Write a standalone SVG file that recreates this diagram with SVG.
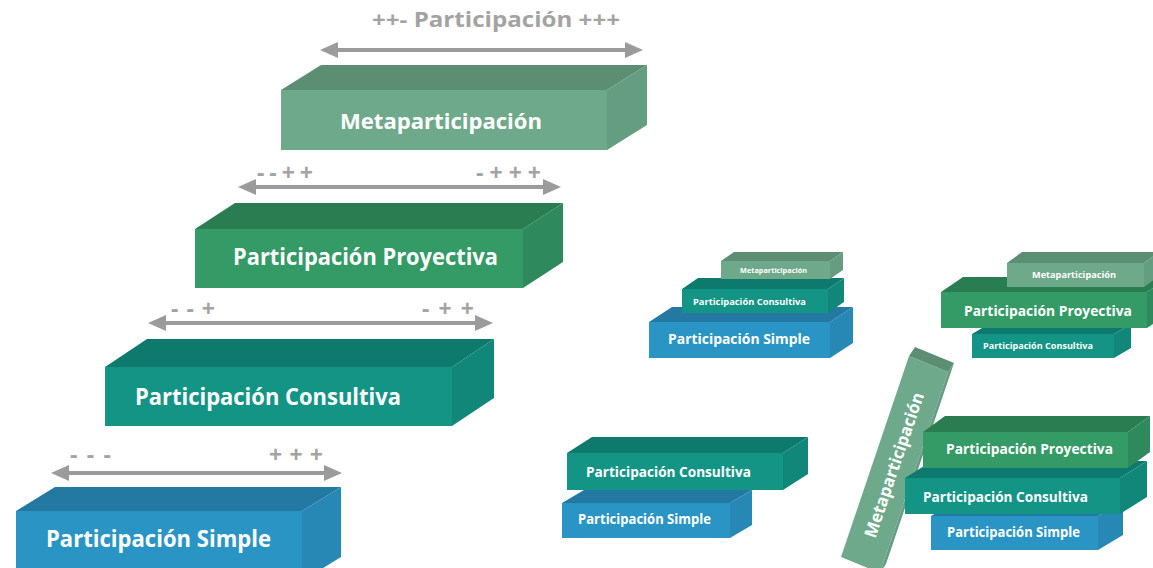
<svg xmlns="http://www.w3.org/2000/svg" width="1153" height="568" viewBox="0 0 1153 568">
<style>
text{font-family:"Open Sans","Noto Sans","DejaVu Sans",sans-serif;font-weight:700;}
.lbl{fill:#fff;text-anchor:middle;}
.gray{fill:#A3A3A3;}
.arrow{stroke:#9B9B9B;stroke-width:4;fill:none;marker-start:url(#ah);marker-end:url(#ah);}
.mF{fill:#6FA98B}.mT{fill:#5C8E74}.mR{fill:#649D81}
.pF{fill:#349A66}.pT{fill:#297D51}.pR{fill:#2E8A5C}
.cF{fill:#139485}.cT{fill:#0E796D}.cR{fill:#11877A}
.sF{fill:#2A95C5}.sT{fill:#2379A1}.sR{fill:#2787B5}
</style>
<defs>
<marker id="ah" markerUnits="userSpaceOnUse" markerWidth="18" markerHeight="16" refX="8" refY="8" orient="auto-start-reverse" viewBox="0 0 18 16">
<path d="M0,0 L18,8 L0,16 z" fill="#9B9B9B"/>
</marker>
</defs>
<rect width="1153" height="568" fill="#fff"/>

<g id="connectors">
<line class="arrow" x1="330" y1="50" x2="633" y2="50"/>
<line class="arrow" x1="248" y1="187" x2="551" y2="187"/>
<line class="arrow" x1="158" y1="323" x2="483" y2="323"/>
<line class="arrow" x1="61" y1="473" x2="332" y2="473"/>
</g>

<g id="labels">
<text class="gray" x="372" y="27" font-size="22" textLength="248" lengthAdjust="spacingAndGlyphs">++- Participación +++</text>
<text class="gray" x="257" y="181" font-size="23" textLength="56" lengthAdjust="spacing">--++</text>
<text class="gray" x="476" y="181" font-size="23" textLength="65" lengthAdjust="spacing">-+++</text>
<text class="gray" x="171" y="317" font-size="23" textLength="44" lengthAdjust="spacing">--+</text>
<text class="gray" x="422" y="317" font-size="23" textLength="52" lengthAdjust="spacing">-++</text>
<text class="gray" x="70" y="463" font-size="23" textLength="41" lengthAdjust="spacing">---</text>
<text class="gray" x="269" y="463" font-size="23" textLength="54" lengthAdjust="spacing">+++</text>
</g>

<g id="big-meta">
<rect class="mF" x="281" y="90" width="326" height="60"/>
<polygon class="mT" points="281,90 321,65 647,65 607,90"/>
<polygon class="mR" points="607,90 647,65 647,125 607,150"/>
<text class="lbl" x="441" y="129" font-size="22" textLength="202" lengthAdjust="spacingAndGlyphs">Metaparticipación</text>
</g>

<g id="big-proyectiva">
<rect class="pF" x="195" y="229" width="328" height="59"/>
<polygon class="pT" points="195,229 235,203 563,203 523,229"/>
<polygon class="pR" points="523,229 563,203 563,262 523,288"/>
<text class="lbl" x="365.5" y="265" font-size="22.5" textLength="265" lengthAdjust="spacingAndGlyphs">Participación Proyectiva</text>
</g>

<g id="big-consultiva">
<rect class="cF" x="105" y="367" width="347" height="59"/>
<polygon class="cT" points="105,367 147,339 494,339 452,367"/>
<polygon class="cR" points="452,367 494,339 494,398 452,426"/>
<text class="lbl" x="268" y="405" font-size="22.5" textLength="266" lengthAdjust="spacingAndGlyphs">Participación Consultiva</text>
</g>

<g id="big-simple">
<rect class="sF" x="16" y="511" width="286" height="70"/>
<polygon class="sT" points="16,511 55,487 341,487 302,511"/>
<polygon class="sR" points="302,511 341,487 341,557 302,581"/>
<text class="lbl" x="158.5" y="547" font-size="22.5" textLength="225" lengthAdjust="spacingAndGlyphs">Participación Simple</text>
</g>

<!-- Stack A -->
<g id="a-simple">
<rect class="sF" x="649" y="322" width="181" height="36"/>
<polygon class="sT" points="649,322 672,307 853,307 830,322"/>
<polygon class="sR" points="830,322 853,307 853,343 830,358"/>
<text class="lbl" x="739" y="344" font-size="14.2" textLength="142" lengthAdjust="spacingAndGlyphs">Participación Simple</text>
</g>
<g id="a-consultiva">
<rect class="cF" x="682" y="289" width="146" height="24"/>
<polygon class="cT" points="682,289 698,278 844,278 828,289"/>
<polygon class="cR" points="828,289 844,278 844,302 828,313"/>
<text class="lbl" x="749.5" y="305" font-size="9.6" textLength="113" lengthAdjust="spacingAndGlyphs">Participación Consultiva</text>
</g>
<g id="a-meta">
<rect class="mF" x="721" y="261" width="109" height="18"/>
<polygon class="mT" points="721,261 734,252 843,252 830,261"/>
<polygon class="mR" points="830,261 843,252 843,270 830,279"/>
<text class="lbl" x="773.5" y="273" font-size="7.4" textLength="67" lengthAdjust="spacingAndGlyphs">Metaparticipación</text>
</g>

<!-- Stack B -->
<g id="b-consultiva">
<rect class="cF" x="972" y="334" width="142" height="24"/>
<polygon class="cT" points="972,334 989,324 1131,324 1114,334"/>
<polygon class="cR" points="1114,334 1131,324 1131,348 1114,358"/>
<text class="lbl" x="1038" y="349" font-size="9.4" textLength="110" lengthAdjust="spacingAndGlyphs">Participación Consultiva</text>
</g>
<g id="b-proyectiva">
<rect class="pF" x="941" y="292" width="206" height="36"/>
<polygon class="pT" points="941,292 963,277 1169,277 1147,292"/>
<polygon class="pR" points="1147,292 1169,277 1169,313 1147,328"/>
<text class="lbl" x="1048" y="316" font-size="14.3" textLength="168" lengthAdjust="spacingAndGlyphs">Participación Proyectiva</text>
</g>
<g id="b-meta">
<rect class="mF" x="1007" y="263" width="137" height="24"/>
<polygon class="mT" points="1007,263 1022,252 1159,252 1144,263"/>
<polygon class="mR" points="1144,263 1159,252 1159,276 1144,287"/>
<text class="lbl" x="1074" y="278" font-size="9" textLength="84" lengthAdjust="spacingAndGlyphs">Metaparticipación</text>
</g>

<!-- Stack C -->
<g id="c-simple">
<rect class="sF" x="562" y="503" width="168" height="35"/>
<polygon class="sT" points="562,503 584,490 752,490 730,503"/>
<polygon class="sR" points="730,503 752,490 752,525 730,538"/>
<text class="lbl" x="644.5" y="524" font-size="13.4" textLength="133" lengthAdjust="spacingAndGlyphs">Participación Simple</text>
</g>
<g id="c-consultiva">
<rect class="cF" x="567" y="453" width="216" height="37"/>
<polygon class="cT" points="567,453 592,437 808,437 783,453"/>
<polygon class="cR" points="783,453 808,437 808,474 783,490"/>
<text class="lbl" x="668.5" y="477" font-size="14" textLength="165" lengthAdjust="spacingAndGlyphs">Participación Consultiva</text>
</g>

<!-- Stack D -->
<g id="d-meta">
<polygon class="mF" points="909,356 948,372 880,573 841,557"/>
<polygon class="mT" points="909,356 915,347 954,363 948,372"/>
<polygon class="mR" points="948,372 954,363 886,564 880,573"/>
<g transform="translate(894,465) rotate(-71.2)">
<text class="lbl" x="0" y="6" font-size="17" textLength="152" lengthAdjust="spacingAndGlyphs">Metaparticipación</text>
</g>
</g>
<g id="d-simple">
<rect class="sF" x="931" y="516" width="167" height="34"/>
<polygon class="sT" points="931,516 956,501 1123,501 1098,516"/>
<polygon class="sR" points="1098,516 1123,501 1123,535 1098,550"/>
<text class="lbl" x="1013.5" y="537" font-size="13.4" textLength="133" lengthAdjust="spacingAndGlyphs">Participación Simple</text>
</g>
<g id="d-consultiva">
<rect class="cF" x="905" y="478" width="215" height="36"/>
<polygon class="cT" points="905,478 932,461 1147,461 1120,478"/>
<polygon class="cR" points="1120,478 1147,461 1147,497 1120,514"/>
<text class="lbl" x="1005.5" y="502" font-size="14" textLength="165" lengthAdjust="spacingAndGlyphs">Participación Consultiva</text>
</g>
<g id="d-proyectiva">
<rect class="pF" x="923" y="432" width="205" height="36"/>
<polygon class="pT" points="923,432 945,416 1150,416 1128,432"/>
<polygon class="pR" points="1128,432 1150,416 1150,452 1128,468"/>
<text class="lbl" x="1029.5" y="454" font-size="14.2" textLength="167" lengthAdjust="spacingAndGlyphs">Participación Proyectiva</text>
</g>
</svg>
